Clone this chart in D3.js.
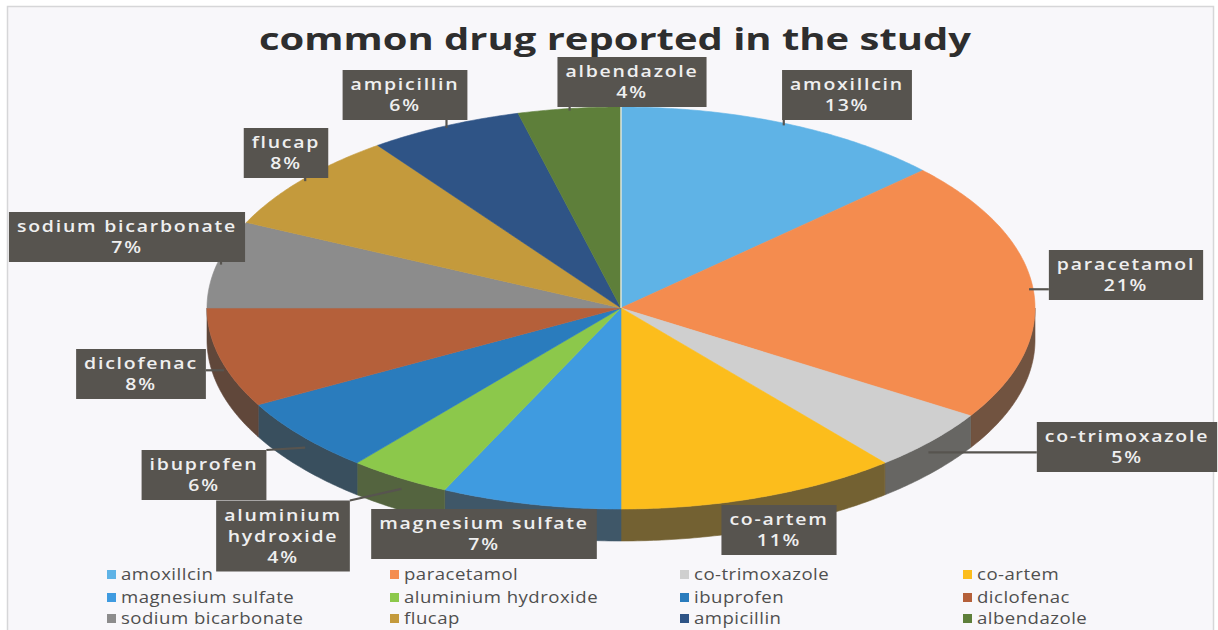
<!DOCTYPE html>
<html>
<head>
<meta charset="utf-8">
<script src="https://cdn.jsdelivr.net/npm/d3@7"></script>
<style>
  html, body { margin: 0; padding: 0; background: #ffffff; }
  svg { display: block; }
</style>
</head>
<body>
<svg id="chart" width="1218" height="630"></svg>
<script>
// ---- data ----
const categories = [
  "amoxillcin", "paracetamol", "co-trimoxazole", "co-artem",
  "magnesium sulfate", "aluminium hydroxide", "ibuprofen", "diclofenac",
  "sodium bicarbonate", "flucap", "ampicillin", "albendazole"
];
const shares = [13, 21, 5, 11, 7, 4, 6, 8, 7, 8, 6, 4];
const shareLabels = ["13%", "21%", "5%", "11%", "7%", "4%", "6%", "8%", "7%", "8%", "6%", "4%"];
const sliceColors = [
  "#5fb3e6", "#f48c4f", "#cfcfcf", "#fcbd1c",
  "#3f9be0", "#8cc84b", "#2a7cbd", "#b5603a",
  "#8c8c8c", "#c49a3c", "#2f5486", "#5e7f3a"
];
// callout box centres
const calloutCenters = [
  [847, 95], [1126, 275], [1127, 447], [779, 530],
  [484, 534], [283, 536], [204, 475], [141, 374],
  [127, 237], [286, 153], [405, 95], [632, 82]
];

// ---- layout ----
const W = 1218, H = 630;
const cx = 621, cy = 308, rx = 414, ry = 201, depth = 32;

const svg = d3.select("#chart");
svg.append("rect").attr("width", W).attr("height", H).attr("fill", "#ffffff");
svg.append("rect")
  .attr("x", 7.5).attr("y", 6.5).attr("width", 1206).attr("height", 630)
  .attr("fill", "#f8f7fa").attr("stroke", "#d6d6d8").attr("stroke-width", 1.5);

const color = d3.scaleOrdinal().domain(categories).range(sliceColors);
const data = categories.map((c, i) => ({ name: c, value: shares[i], label: shareLabels[i] }));
const arcs = d3.pie().sort(null).value(d => d.value)(data);

const P = (a, dy = 0, k = 1) => [cx + k * rx * Math.sin(a), cy - k * ry * Math.cos(a) + dy];
function arcPoints(a0, a1, dy) {
  const n = Math.max(2, Math.ceil((a1 - a0) / 0.01));
  return d3.range(n + 1).map(i => P(a0 + (a1 - a0) * i / n, dy));
}
const line = d3.line();

// side walls (front half only)
const walls = svg.append("g");
arcs.forEach(a => {
  const s = Math.max(a.startAngle, Math.PI / 2);
  const e = Math.min(a.endAngle, 3 * Math.PI / 2);
  if (s >= e) return;
  const pts = arcPoints(s, e, 0).concat(arcPoints(s, e, depth).reverse());
  const base = d3.color(color(a.data.name)).darker(0.9);
  const side = d3.interpolateRgb(base, "#4a4844")(0.62);
  walls.append("path")
    .attr("d", line(pts) + "Z")
    .attr("fill", side)
    .attr("stroke", side)
    .attr("stroke-width", 0.6);
});

// top faces
const tops = svg.append("g");
arcs.forEach(a => {
  const pts = [[cx, cy]].concat(arcPoints(a.startAngle, a.endAngle, 0));
  tops.append("path")
    .attr("d", line(pts) + "Z")
    .attr("fill", color(a.data.name))
    .attr("stroke", color(a.data.name))
    .attr("stroke-width", 0.6);
});
// light seam at the 12 o'clock start
tops.append("path")
  .attr("d", line([[cx, cy], P(0)]))
  .attr("stroke", "#ffffff").attr("stroke-width", 1.4).attr("opacity", 0.85);

// ---- title ----
svg.append("text")
  .attr("x", 615).attr("y", 50)
  .attr("text-anchor", "middle")
  .attr("font-family", "'Open Sans', sans-serif")
  .attr("font-weight", 700)
  .attr("font-size", 31)
  .attr("textLength", 712)
  .attr("lengthAdjust", "spacingAndGlyphs")
  .attr("fill", "#2e2e2e")
  .text("common drug reported in the study");

// ---- callouts ----
const callouts = svg.append("g");
const leaders = callouts.append("g");
const lineH = 21;
const stretch = 1.18;
arcs.forEach((a, i) => {
  const [bx, by] = calloutCenters[i];
  const nameLines = a.data.name === "aluminium hydroxide" ? ["aluminium", "hydroxide"] : [a.data.name];
  const lines = nameLines.concat([a.data.label]);
  const g = callouts.append("g");
  const rect = g.append("rect").attr("fill", "#57544f");
  const t = g.append("text")
    .attr("font-family", "'Open Sans', sans-serif")
    .attr("font-size", 16.5)
    .attr("font-weight", 600)
    .attr("letter-spacing", 1.5)
    .attr("fill", "#efefef")
    .attr("text-anchor", "middle")
    .attr("transform", `translate(${bx},0) scale(${stretch},1) translate(${-bx},0)`);
  const y0 = by - (lines.length - 1) * lineH / 2;
  lines.forEach((s, j) => {
    t.append("tspan").attr("x", bx).attr("y", y0 + j * lineH).attr("dy", "0.35em").text(s);
  });
  const bb = t.node().getBBox();
  const bw = bb.width * stretch + 16, bh = lines.length * lineH + 8;
  const x0 = bx - bw / 2, yTop = by - bh / 2;
  rect.attr("x", x0).attr("y", yTop).attr("width", bw).attr("height", bh);

  // leader to the slice rim at its mid angle
  const mid = (a.startAngle + a.endAngle) / 2;
  const inFront = Math.cos(mid) < 0;
  const anchor = P(mid, inFront ? depth * 0.4 : 0, 0.99);
  const inside = anchor[0] > x0 && anchor[0] < x0 + bw && anchor[1] > yTop && anchor[1] < yTop + bh;
  if (!inside) {
    const sx = Math.max(x0, Math.min(anchor[0], x0 + bw));
    const sy = Math.max(yTop, Math.min(anchor[1], yTop + bh));
    leaders.append("line")
      .attr("x1", sx).attr("y1", sy).attr("x2", anchor[0]).attr("y2", anchor[1])
      .attr("stroke", "#57544f").attr("stroke-width", 2.2);
  }
});

// ---- legend ----
const legend = svg.append("g");
const colX = [107, 390, 680, 963];
const rowY = [575, 598, 619];
categories.forEach((c, i) => {
  const x = colX[i % 4], y = rowY[Math.floor(i / 4)];
  legend.append("rect")
    .attr("x", x).attr("y", y - 5).attr("width", 9).attr("height", 9)
    .attr("fill", color(c));
  legend.append("text")
    .attr("x", x + 14).attr("y", y).attr("dy", "0.35em")
    .attr("font-family", "'Open Sans', sans-serif")
    .attr("font-size", 15.5)
    .attr("letter-spacing", 0.4)
    .attr("fill", "#4f4f4f")
    .attr("transform", `translate(${x + 14},0) scale(1.2,1) translate(${-(x + 14)},0)`)
    .text(c);
});
</script>
</body>
</html>
